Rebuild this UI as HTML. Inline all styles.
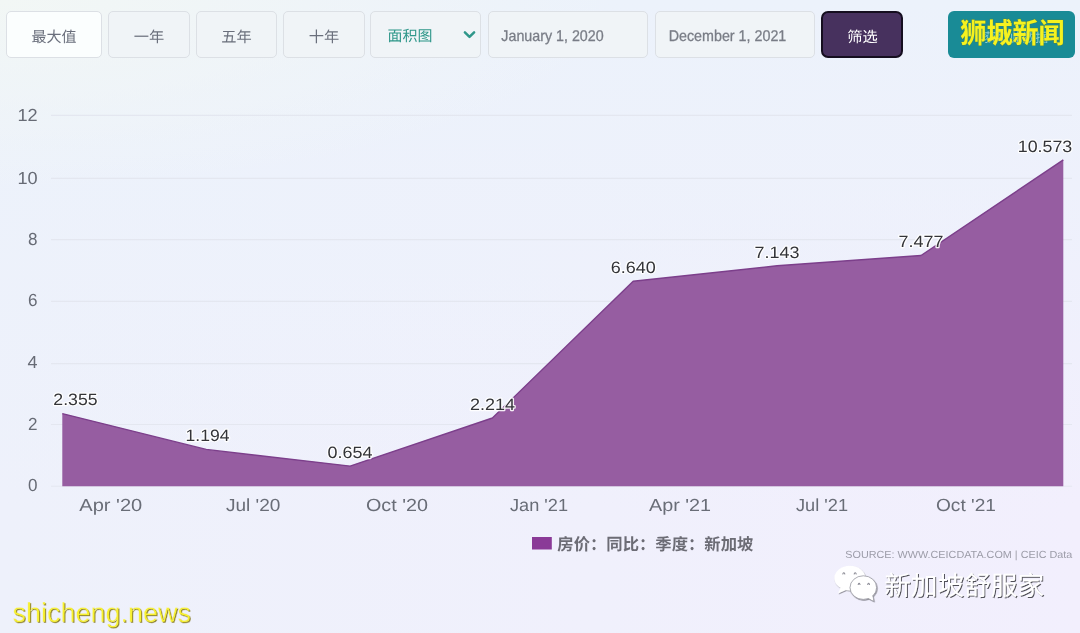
<!DOCTYPE html>
<html lang="zh"><head><meta charset="utf-8"><title>CEIC chart</title>
<style>
html,body{margin:0;padding:0}
body{width:1080px;height:633px;overflow:hidden;position:relative;font-family:"Liberation Sans","Noto Sans CJK SC",sans-serif;
background:radial-gradient(ellipse 620px 190px at 0 0,rgba(242,247,245,1) 0%,rgba(242,247,245,0.55) 45%,rgba(242,247,245,0) 100%),linear-gradient(180deg,rgba(236,242,251,1) 0%,rgba(236,242,251,0.6) 35%,rgba(236,242,251,0) 80%),linear-gradient(90deg,#eef1fb 0%,#f0f0fc 55%,#f2effd 100%)}
.b{position:absolute;top:11px;height:46.5px;box-sizing:border-box;border:1px solid #dce0e5;border-radius:5px;background:#f0f4f7}
.f{position:absolute;left:821px;top:11px;width:82px;height:46.5px;box-sizing:border-box;border:2px solid #150e1f;border-radius:7px;background:#47315e}
.t{position:absolute;left:947.8px;top:10.8px;width:127.4px;height:47px;border-radius:6px;background:#198b96}
svg{position:absolute;left:0;top:0;will-change:transform}
text{font-family:"Liberation Sans","Noto Sans CJK SC",sans-serif;text-rendering:geometricPrecision}
</style></head><body>
<div class="b" role="button" aria-label="最大值" style="left:6.0px;width:95.5px;background:#fbfefe"></div>
<div class="b" role="button" aria-label="一年" style="left:108.0px;width:81.5px"></div>
<div class="b" role="button" aria-label="五年" style="left:195.5px;width:81.0px"></div>
<div class="b" role="button" aria-label="十年" style="left:282.5px;width:82.0px"></div>
<div class="b" role="button" aria-label="面积图" style="left:370.0px;width:110.5px"></div>
<div class="b" role="button" aria-label="January 1, 2020" style="left:488.0px;width:159.5px"></div>
<div class="b" role="button" aria-label="December 1, 2021" style="left:654.5px;width:160.0px"></div>
<div class="f" role="button" aria-label="筛选"></div><div class="t" role="button" aria-label="狮城新闻"></div>
<svg width="1080" height="633" viewBox="0 0 1080 633" role="img" aria-label="房价：同比：季度：新加坡 面积图"><title>房价：同比：季度：新加坡</title><defs><filter id="sh" x="-5%" y="-10%" width="110%" height="130%"><feDropShadow dx="1" dy="1" stdDeviation="0.45" flood-color="#30303a" flood-opacity="0.85"/></filter><filter id="sh2" x="-10%" y="-10%" width="125%" height="130%"><feDropShadow dx="0.7" dy="0.9" stdDeviation="0.45" flood-color="#44444e" flood-opacity="0.6"/></filter></defs>
<line x1="51" x2="1072" y1="486.3" y2="486.3" stroke="#e4e7f0" stroke-width="1.1"/>
<line x1="51" x2="1072" y1="424.5" y2="424.5" stroke="#e4e7f0" stroke-width="1.1"/>
<line x1="51" x2="1072" y1="363.6" y2="363.6" stroke="#e4e7f0" stroke-width="1.1"/>
<line x1="51" x2="1072" y1="301.4" y2="301.4" stroke="#e4e7f0" stroke-width="1.1"/>
<line x1="51" x2="1072" y1="239.6" y2="239.6" stroke="#e4e7f0" stroke-width="1.1"/>
<line x1="51" x2="1072" y1="178.4" y2="178.4" stroke="#e4e7f0" stroke-width="1.1"/>
<line x1="51" x2="1072" y1="115.4" y2="115.4" stroke="#e4e7f0" stroke-width="1.1"/>
<path d="M62.3,486.3 L62.3,413.6 L206.2,449.4 L350.1,466.1 L492.4,418.0 L633.2,281.3 L777.1,265.8 L921.0,255.5 L1063.3,159.9 L1063.3,486.3 Z" fill="#965da1"/>
<polyline points="62.3,413.6 206.2,449.4 350.1,466.1 492.4,418.0 633.2,281.3 777.1,265.8 921.0,255.5 1063.3,159.9" fill="none" stroke="#7c3f8b" stroke-width="1.4" stroke-linejoin="round"/>
<text x="37.6" y="491.3" font-size="17.5" fill="#676b75" text-anchor="end" textLength="9.5" lengthAdjust="spacingAndGlyphs">0</text>
<text x="37.6" y="429.9" font-size="17.5" fill="#676b75" text-anchor="end" textLength="9.5" lengthAdjust="spacingAndGlyphs">2</text>
<text x="37.6" y="368.0" font-size="17.5" fill="#676b75" text-anchor="end" textLength="10.0" lengthAdjust="spacingAndGlyphs">4</text>
<text x="37.6" y="306.4" font-size="17.5" fill="#676b75" text-anchor="end" textLength="9.5" lengthAdjust="spacingAndGlyphs">6</text>
<text x="37.6" y="244.8" font-size="17.5" fill="#676b75" text-anchor="end" textLength="9.5" lengthAdjust="spacingAndGlyphs">8</text>
<text x="37.6" y="183.7" font-size="17.5" fill="#676b75" text-anchor="end" textLength="20.2" lengthAdjust="spacingAndGlyphs">10</text>
<text x="37.6" y="121.3" font-size="17.5" fill="#676b75" text-anchor="end" textLength="20.2" lengthAdjust="spacingAndGlyphs">12</text>
<text x="110.8" y="511.2" font-size="17.5" fill="#696d77" text-anchor="middle" textLength="63.0" lengthAdjust="spacingAndGlyphs">Apr &#39;20</text>
<text x="253.2" y="511.2" font-size="17.5" fill="#696d77" text-anchor="middle" textLength="54.5" lengthAdjust="spacingAndGlyphs">Jul &#39;20</text>
<text x="397.0" y="511.2" font-size="17.5" fill="#696d77" text-anchor="middle" textLength="62.0" lengthAdjust="spacingAndGlyphs">Oct &#39;20</text>
<text x="539.0" y="511.2" font-size="17.5" fill="#696d77" text-anchor="middle" textLength="58.0" lengthAdjust="spacingAndGlyphs">Jan &#39;21</text>
<text x="680.0" y="511.2" font-size="17.5" fill="#696d77" text-anchor="middle" textLength="62.0" lengthAdjust="spacingAndGlyphs">Apr &#39;21</text>
<text x="822.0" y="511.2" font-size="17.5" fill="#696d77" text-anchor="middle" textLength="52.0" lengthAdjust="spacingAndGlyphs">Jul &#39;21</text>
<text x="966.0" y="511.2" font-size="17.5" fill="#696d77" text-anchor="middle" textLength="60.0" lengthAdjust="spacingAndGlyphs">Oct &#39;21</text>
<text x="75.5" y="405.4" font-size="16.5" fill="#333438" text-anchor="middle" textLength="44.3" lengthAdjust="spacingAndGlyphs" stroke="#ffffff" stroke-width="2.4" stroke-linejoin="round" paint-order="stroke" stroke-opacity="0.9">2.355</text>
<text x="207.5" y="441.2" font-size="16.5" fill="#333438" text-anchor="middle" textLength="44.0" lengthAdjust="spacingAndGlyphs" stroke="#ffffff" stroke-width="2.4" stroke-linejoin="round" paint-order="stroke" stroke-opacity="0.9">1.194</text>
<text x="350.1" y="457.9" font-size="16.5" fill="#333438" text-anchor="middle" textLength="45.0" lengthAdjust="spacingAndGlyphs" stroke="#ffffff" stroke-width="2.4" stroke-linejoin="round" paint-order="stroke" stroke-opacity="0.9">0.654</text>
<text x="492.4" y="409.8" font-size="16.5" fill="#333438" text-anchor="middle" textLength="45.0" lengthAdjust="spacingAndGlyphs" stroke="#ffffff" stroke-width="2.4" stroke-linejoin="round" paint-order="stroke" stroke-opacity="0.9">2.214</text>
<text x="633.2" y="273.1" font-size="16.5" fill="#333438" text-anchor="middle" textLength="45.0" lengthAdjust="spacingAndGlyphs" stroke="#ffffff" stroke-width="2.4" stroke-linejoin="round" paint-order="stroke" stroke-opacity="0.9">6.640</text>
<text x="777.1" y="257.6" font-size="16.5" fill="#333438" text-anchor="middle" textLength="45.0" lengthAdjust="spacingAndGlyphs" stroke="#ffffff" stroke-width="2.4" stroke-linejoin="round" paint-order="stroke" stroke-opacity="0.9">7.143</text>
<text x="921.0" y="247.3" font-size="16.5" fill="#333438" text-anchor="middle" textLength="45.0" lengthAdjust="spacingAndGlyphs" stroke="#ffffff" stroke-width="2.4" stroke-linejoin="round" paint-order="stroke" stroke-opacity="0.9">7.477</text>
<text x="1045.0" y="151.7" font-size="16.5" fill="#333438" text-anchor="middle" textLength="54.5" lengthAdjust="spacingAndGlyphs" stroke="#ffffff" stroke-width="2.4" stroke-linejoin="round" paint-order="stroke" stroke-opacity="0.9">10.573</text>
<rect x="532" y="537" width="19.8" height="12.5" fill="#8a3a97"/>
<text x="557.3" y="549.6" font-size="16.4" font-weight="bold" fill="#6c6c75" text-anchor="start" textLength="196" lengthAdjust="spacingAndGlyphs">房价：同比：季度：新加坡</text>
<text x="845.3" y="558.0" font-size="10.3" fill="#9c9ca8" text-anchor="start" textLength="227.0" lengthAdjust="spacingAndGlyphs">SOURCE: WWW.CEICDATA.COM | CEIC Data</text>
<text x="31.6" y="42" font-size="14.8" fill="#6a6f7c" text-anchor="start" textLength="45" lengthAdjust="spacingAndGlyphs">最大值</text>
<text x="133.8" y="42" font-size="14.8" fill="#6a6f7c" text-anchor="start" textLength="30.5" lengthAdjust="spacingAndGlyphs">一年</text>
<text x="221.3" y="42" font-size="14.8" fill="#6a6f7c" text-anchor="start" textLength="30.5" lengthAdjust="spacingAndGlyphs">五年</text>
<text x="308.8" y="42" font-size="14.8" fill="#6a6f7c" text-anchor="start" textLength="30.5" lengthAdjust="spacingAndGlyphs">十年</text>
<text x="387.4" y="41.2" font-size="14.8" fill="#2f978a" text-anchor="start" textLength="45" lengthAdjust="spacingAndGlyphs">面积图</text>
<path d="M464.9,32.3 l4.6,4.6 l4.6,-4.6" fill="none" stroke="#2f978a" stroke-width="2.5" stroke-linecap="round" stroke-linejoin="round"/>
<text x="847.3" y="42" font-size="14.8" fill="#ffffff" text-anchor="start" textLength="30.5" lengthAdjust="spacingAndGlyphs">筛选</text>
<text x="501.3" y="40.8" font-size="15.5" fill="#797d86" text-anchor="start" textLength="102.4" lengthAdjust="spacingAndGlyphs" stroke="#797d86" stroke-width="0.3">January 1, 2020</text>
<text x="668.7" y="40.8" font-size="15.5" fill="#797d86" text-anchor="start" textLength="117.6" lengthAdjust="spacingAndGlyphs" stroke="#797d86" stroke-width="0.3">December 1, 2021</text>
<text x="983.8" y="41.6" font-size="12.8" fill="#a9dfe2" opacity="0.8" text-anchor="start" textLength="64.4" lengthAdjust="spacingAndGlyphs">获取此数据</text>
<g transform="translate(0,31.75) scale(1,1.085) translate(0,-31.75)"><text x="960.3" y="41.7" font-size="26" font-weight="bold" fill="#f6f21e" stroke="#5f7f3a" stroke-opacity="0.55" stroke-width="1.1" paint-order="stroke fill" stroke-linejoin="round" text-anchor="start" textLength="104.4" lengthAdjust="spacingAndGlyphs">狮城新闻</text></g>
<g filter="url(#sh)">
<text x="884.2" y="595" font-size="26.6" fill="#ffffff" text-anchor="start" textLength="160" lengthAdjust="spacingAndGlyphs">新加坡舒服家</text>
</g>
<g filter="url(#sh2)">
<path d="M840.6,587.6 L838,593.4 L846.6,589.8 Z" fill="#fff"/>
<ellipse cx="849.9" cy="578.1" rx="15.6" ry="12.3" fill="#fff"/>
</g>
<g filter="url(#sh2)">
<path d="M867.5,598 L873.8,601.2 L872.3,594.5 Z" fill="#fff" stroke="#8d8d96" stroke-width="0.6"/>
<ellipse cx="863.3" cy="587.6" rx="13.3" ry="11.8" fill="#fff" stroke="#8d8d96" stroke-width="0.7"/>
<path d="M867.9,597.6 L873.2,600.4 L872,594.9 Z" fill="#fff"/>
</g>
<g fill="none" stroke="#8f8f99" stroke-width="1.1" stroke-linecap="round">
<path d="M842.8,573.9 q1,-2.200 2,0"/><path d="M854.2,573.9 q1,-2.200 2,0"/>
<path d="M858.2,584.4 q0.900,-2 1.800,0"/><path d="M867.7,584.4 q0.900,-2 1.800,0"/>
</g>
<mask id="sm" maskUnits="userSpaceOnUse" x="0" y="590" width="220" height="43"><text x="12.6" y="621.8" font-size="27.5" fill="#fff" stroke="#000" stroke-width="0.45" textLength="178.5" lengthAdjust="spacingAndGlyphs">shicheng.news</text></mask>
<g style="filter:drop-shadow(1px 1px 0.2px #8d8230)"><rect x="0" y="590" width="220" height="43" fill="#f8f130" mask="url(#sm)"/></g>
</svg></body></html>
